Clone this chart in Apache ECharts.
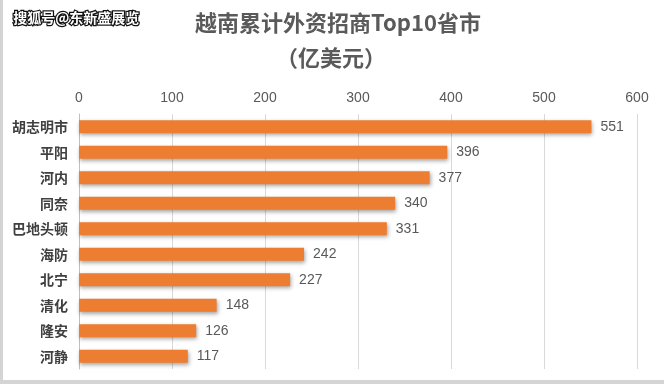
<!DOCTYPE html>
<html><head><meta charset="utf-8">
<script src="https://cdn.jsdelivr.net/npm/echarts@6/dist/echarts.min.js"></script>
<style>html,body{margin:0;padding:0;background:#fff}#c{width:664px;height:384px}</style>
</head><body><div id="c"></div>
<script>
const categories = ['胡志明市','平阳','河内','同奈','巴地头顿','海防','北宁','清化','隆安','河静'];
const values = [551,396,377,340,331,242,227,148,126,117];
const titleText = '越南累计外资招商Top10省市';
const subText = '（亿美元）';
const watermark = '搜狐号@东新盛展览';

const chart = echarts.init(document.getElementById('c'), null, {renderer:'canvas'});
chart.setOption({
  backgroundColor:'#fff',
  animation:false,
  title:[
    {text:titleText, left:333, textAlign:'center', top:7,
     textStyle:{fontFamily:'Noto Sans CJK SC', fontSize:22, fontWeight:'bold', color:'#5a5a5a'}},
    {text:subText, left:326, textAlign:'center', top:42,
     textStyle:{fontFamily:'Noto Sans CJK SC', fontSize:22, fontWeight:'bold', color:'#5a5a5a'}}
  ],
  graphic:[
    {type:'text', left:12, top:9, style:{text:watermark, fill:'#fff', stroke:'#111', lineWidth:2.5,
      font:'bold 14px "Noto Sans CJK SC"'}},
    {type:'rect', left:0, top:0, shape:{width:3,height:384}, style:{fill:'#d4d4d4'}},
    {type:'rect', left:0, top:380, shape:{width:664,height:4}, style:{fill:'#d4d4d4'}}
  ],
  grid:{left:79, right:27, top:114, bottom:15, containLabel:false},
  xAxis:{type:'value', position:'top', min:0, max:600, interval:100,
    axisLine:{show:false}, axisTick:{show:false},
    axisLabel:{color:'#595959', fontSize:14, fontFamily:'Liberation Sans', margin:9},
    splitLine:{lineStyle:{color:'#d9d9d9', width:1}}},
  yAxis:{type:'category', inverse:true, data:categories,
    axisLine:{show:true, lineStyle:{color:'#bfbfbf'}}, axisTick:{show:false},
    axisLabel:{color:'#404040', fontSize:14, fontWeight:'bold', fontFamily:'Noto Sans CJK SC', margin:11}},
  series:[{type:'bar', data:values, barWidth:13,
    itemStyle:{color:'#ED7D31', shadowBlur:4, shadowOffsetX:1, shadowOffsetY:2, shadowColor:'rgba(0,0,0,0.35)'},
    label:{show:true, position:'right', distance:9, color:'#595959', fontSize:14, fontFamily:'Liberation Sans'}}]
});
</script></body></html>
